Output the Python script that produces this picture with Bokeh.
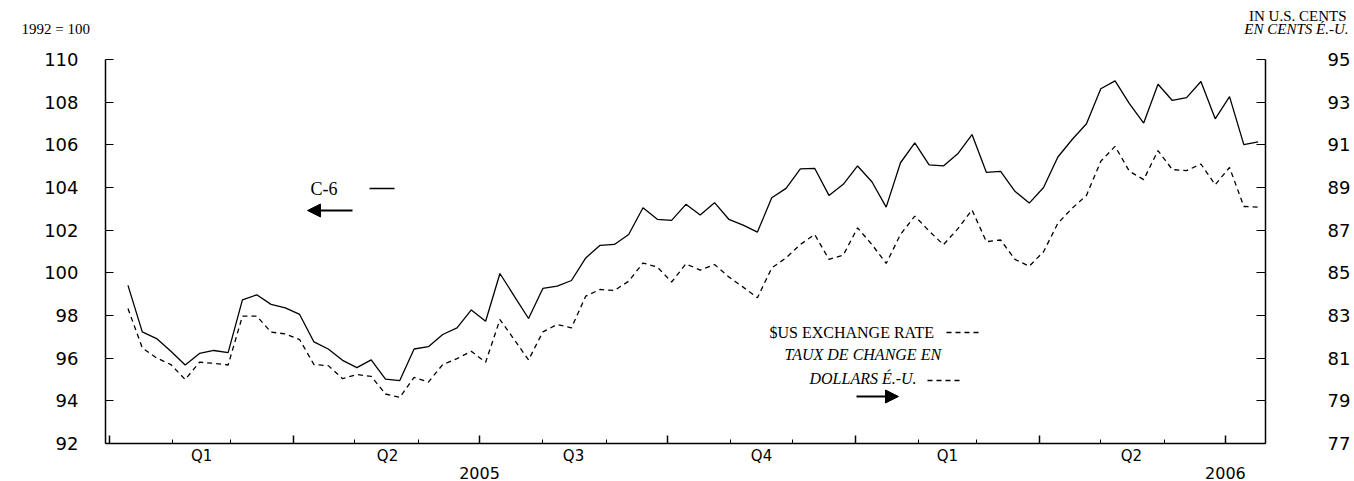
import pandas as pd
from bokeh.plotting import figure
from bokeh.models import (Range1d, LinearAxis, FixedTicker, Label, Arrow,
                          NormalHead, ColumnDataSource)
from bokeh.embed import file_html
from bokeh.resources import INLINE

# ---------------- data ----------------
week_dates = pd.date_range("2005-01-10", periods=80, freq="7D")

c6_index = [
    99.41, 97.23, 96.92, 96.32, 95.68, 96.22, 96.36, 96.26, 98.73, 98.97,
    98.52, 98.36, 98.05, 96.76, 96.43, 95.90, 95.56, 95.92, 95.02, 94.95,
    96.43, 96.54, 97.11, 97.42, 98.26, 97.73, 99.97, 98.91, 97.86, 99.27,
    99.38, 99.64, 100.70, 101.29, 101.33, 101.80, 103.05, 102.51, 102.46, 103.21,
    102.71, 103.29, 102.51, 102.24, 101.91, 103.52, 103.96, 104.87, 104.90, 103.63,
    104.15, 105.01, 104.27, 103.08, 105.16, 106.09, 105.06, 105.01, 105.58, 106.48,
    104.71, 104.76, 103.82, 103.27, 104.00, 105.43, 106.25, 106.99, 108.63, 109.00,
    107.93, 107.02, 108.84, 108.08, 108.21, 108.97, 107.22, 108.26, 106.01, 106.14,
]

usd_cents = [
    83.33, 81.48, 81.01, 80.70, 80.00, 80.81, 80.76, 80.68, 82.97, 82.97,
    82.22, 82.14, 81.87, 80.70, 80.65, 80.04, 80.23, 80.15, 79.32, 79.16,
    80.10, 79.88, 80.70, 80.98, 81.32, 80.81, 82.81, 81.87, 80.92, 82.23,
    82.58, 82.42, 83.91, 84.22, 84.17, 84.61, 85.46, 85.27, 84.57, 85.42,
    85.13, 85.39, 84.81, 84.33, 83.83, 85.23, 85.70, 86.33, 86.80, 85.63,
    85.83, 87.11, 86.33, 85.44, 86.80, 87.66, 86.96, 86.32, 87.06, 87.95,
    86.46, 86.54, 85.63, 85.31, 85.99, 87.32, 88.03, 88.63, 90.23, 90.93,
    89.76, 89.37, 90.73, 89.84, 89.79, 90.10, 89.13, 89.94, 88.11, 88.08,
]

left_ticks = [92, 94, 96, 98, 100, 102, 104, 106, 108, 110]
right_ticks = [77, 79, 81, 83, 85, 87, 89, 91, 93, 95]
quarter_labels = ["Q1", "Q2", "Q3", "Q4", "Q1", "Q2"]
year_labels = ["2005", "2006"]

# ---------------- date helpers ----------------
origin = pd.Timestamp("2005-01-01")
def day(ts):
    return (pd.Timestamp(ts) - origin).days

x_days = [day(d) for d in week_dates]
month_starts = [day(d) for d in pd.date_range("2005-01-01", "2006-07-01", freq="MS")]
quarter_starts = [day(d) for d in pd.date_range("2005-01-01", "2006-07-01", freq="QS")]
quarter_mids = [int(round((a + b) / 2)) for a, b in zip(quarter_starts[:-1], quarter_starts[1:])]
year_mids = [day("2005-07-01"), day("2006-07-01")]
minor_months = [m for m in month_starts if m not in quarter_starts]

src = ColumnDataSource(dict(x=x_days, c6=c6_index, usd=usd_cents))

# ---------------- geometry (pixels) ----------------
W, H = 1354, 481
FL, FR, FT, FB = 105, 1265, 59, 443      # where the axes box sits on the canvas
X0, X1 = -2, 565.6                        # days at the left / right axis
Y0, Y1 = 92, 110                          # index at bottom / top of axes
R0, R1 = 77, 95                           # cents at bottom / top of axes
ppd = (FR - FL) / (X1 - X0)
ppu = (FB - FT) / (Y1 - Y0)

x_range = Range1d(X0 - FL / ppd, X1 + (W - FR) / ppd)
y_range = Range1d(Y0 - (H - FB) / ppu, Y1 + FT / ppu)
r_range = Range1d(R0 - (H - FB) / ppu, R1 + FT / ppu)

AXIS_FONT = "DejaVu Sans"
SERIF = "Liberation Serif"

p = figure(width=W, height=H, output_backend="svg", toolbar_location=None,
           title=None, x_range=x_range, y_range=y_range,
           min_border=0, min_border_left=0, min_border_right=0,
           min_border_top=0, min_border_bottom=0)
p.outline_line_color = None
p.grid.visible = False
p.extra_y_ranges = {"usd": r_range}

p.line("x", "c6", source=src, line_color="black", line_width=1.3)
p.line("x", "usd", source=src, y_range_name="usd", line_color="black",
       line_width=1.3, line_dash="5 4")

# left axis
ya = p.yaxis[0]
ya.fixed_location = X0
ya.bounds = (Y0, Y1)
ya.ticker = FixedTicker(ticks=left_ticks, minor_ticks=[])
ya.major_tick_in = 8
ya.major_tick_out = 0
ya.minor_tick_in = 0
ya.minor_tick_out = 0
ya.axis_line_width = 1.5
ya.axis_line_color = "black"
ya.major_tick_line_color = "black"
ya.major_label_standoff = 27
ya.major_label_text_font = AXIS_FONT
ya.major_label_text_font_size = "18px"
ya.major_label_text_color = "black"

# right axis
ra = LinearAxis(y_range_name="usd", fixed_location=X1, bounds=(R0, R1),
                ticker=FixedTicker(ticks=right_ticks, minor_ticks=[]))
ra.major_tick_in = 9
ra.major_tick_out = 0
ra.minor_tick_in = 0
ra.minor_tick_out = 0
ra.axis_line_width = 1.5
ra.axis_line_color = "black"
ra.major_label_standoff = 62
ra.major_label_text_font = AXIS_FONT
ra.major_label_text_font_size = "18px"
ra.major_label_text_color = "black"
p.add_layout(ra, "right")

# bottom tick axis (quarters = long ticks, months = short), labels not drawn
xa = p.xaxis[0]
xa.fixed_location = Y0
xa.bounds = (X0, X1)
xa.ticker = FixedTicker(ticks=quarter_starts, minor_ticks=minor_months)
xa.major_tick_in = 8
xa.major_tick_out = 0
xa.minor_tick_in = 4
xa.minor_tick_out = 0
xa.axis_line_width = 1.5
xa.axis_line_color = "black"
xa.major_tick_line_width = 1.5
xa.major_label_text_font_size = "1px"
xa.major_label_text_color = None
xa.major_label_standoff = 0

def label_axis(ticks, labels, size, standoff):
    ax = LinearAxis(fixed_location=Y0,
                    ticker=FixedTicker(ticks=ticks, minor_ticks=[]),
                    major_label_overrides={t: s for t, s in zip(ticks, labels)})
    ax.axis_line_color = None
    ax.major_tick_in = 0
    ax.major_tick_out = 0
    ax.minor_tick_in = 0
    ax.minor_tick_out = 0
    ax.major_label_standoff = standoff
    ax.major_label_text_font = AXIS_FONT
    ax.major_label_text_font_size = size
    ax.major_label_text_color = "black"
    p.add_layout(ax, "below")

label_axis(quarter_mids, quarter_labels, "15px", 3)
label_axis(year_mids, year_labels, "16px", 23)

# ---------------- texts (canvas pixel positions, y measured upward) ----------------
def lab(X, Y, text, size="16px", align="left", style="normal"):
    p.add_layout(Label(x=X, y=H - Y, x_units="screen", y_units="screen", text=text,
                       text_align=align, text_baseline="alphabetic",
                       text_font=SERIF, text_font_size=size,
                       text_font_style=style, text_color="black"))

lab(21, 28, "1992 = 100", size="15px")
lab(1346, 15, "IN U.S. CENTS", size="15px", align="right")
lab(1348, 28, "EN CENTS É.-U.", size="15px", align="right", style="italic")

lab(310, 188, "C-6", size="18px")
lab(769, 332, "$US EXCHANGE RATE")
lab(784, 354, "TAUX DE CHANGE EN", style="italic")
lab(809, 378, "DOLLARS É.-U.", style="italic")

def seg(Xa, Xb, Y, dash="solid"):
    p.add_layout(Arrow(end=None, x_start=Xa, x_end=Xb, y_start=H - Y, y_end=H - Y,
                       start_units="screen", end_units="screen",
                       line_color="black", line_width=1.5, line_dash=dash))

def arrow(Xa, Xb, Y):
    p.add_layout(Arrow(end=NormalHead(size=13, fill_color="black", line_color="black"),
                       x_start=Xa, x_end=Xb, y_start=H - Y, y_end=H - Y,
                       start_units="screen", end_units="screen",
                       line_color="black", line_width=2))

seg(369, 394, 188)
arrow(352, 307, 210)
seg(946, 980, 332, "5 4")
seg(927, 962, 380, "5 4")
arrow(856, 898, 396)

open("out.html", "w").write(file_html(p, INLINE))
